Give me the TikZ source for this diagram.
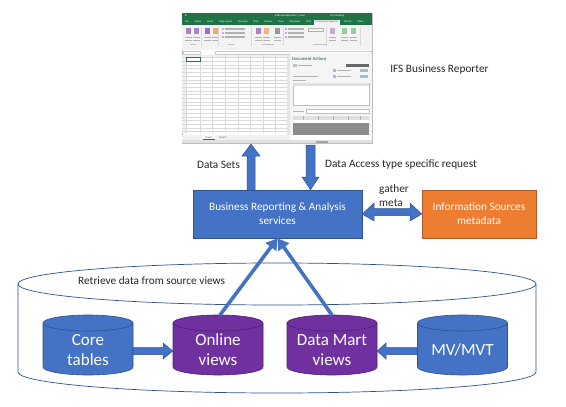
\documentclass[tikz,border=0pt]{standalone}
\usepackage{fontspec}
\setmainfont{Carlito}
\usetikzlibrary{arrows.meta}
\definecolor{ablue}{HTML}{4472C4}
\definecolor{abluedk}{HTML}{2F528F}
\definecolor{apurple}{HTML}{7030A0}
\definecolor{apurpledk}{HTML}{4E2272}
\definecolor{aorange}{HTML}{ED7D31}
\definecolor{aorangedk}{HTML}{AE5A21}
\definecolor{xlgreen}{HTML}{217346}
\definecolor{xlribbon}{HTML}{F3F3F3}
\newcommand{\dbcyl}[3]{% center x, fill, border
  \filldraw[fill=#2,draw=#3,line width=0.6pt] (#1-45,323) -- (#1-45,367)
    arc[start angle=180,end angle=360,x radius=45pt,y radius=8pt] -- (#1+45,323);
  \filldraw[fill=#2,draw=#3,line width=0.6pt] (#1,323) ellipse [x radius=45pt,y radius=8pt];
}
\tikzset{
  lbl/.style={font=\fontsize{11.3}{14}\selectfont, inner sep=0pt, text=black!85},
  boxtxt/.style={font=\fontsize{11.3}{14}\selectfont, text=white, align=center, inner sep=0pt},
  cyltxt/.style={font=\fontsize{17}{20}\selectfont, text=white, align=center, inner sep=0pt, minimum width=90pt, minimum height=50pt},
  barrow/.style={fill=ablue, draw=abluedk, line width=0.5pt, line join=miter},
  larrow/.style={draw=ablue, line width=3.6pt, -{Triangle[length=11pt,width=13pt]}, shorten >=0pt},
  tiny/.style={inner sep=0pt, font=\fontsize{2.6}{3}\selectfont},
}
\begin{document}
\begin{tikzpicture}[x=1pt,y=-1pt]
\useasboundingbox (0,0) rectangle (566,407);
\fill[white] (0,0) rectangle (566,407);

% ---------- Excel screenshot ----------
\node[draw=black!25, line width=0.4pt, fill=white, minimum width=190pt, minimum height=130pt, inner sep=0pt] (excel) at (277,78) {};
\fill[xlgreen] (182,13) rectangle (372,24.5);
\node[tiny, text=white] at (290,15.8) {IFSBusinessReporter1 - Excel};
\node[tiny, text=white, anchor=west] at (185,15.8) {\textbf{X}};
\node[tiny, text=white, anchor=west] at (330,15.8) {Lars Lindberg};
\node[tiny, text=white, anchor=west] at (185,21.6) {File\hspace{6pt}Home\hspace{6pt}Insert\hspace{6pt}Page Layout\hspace{6pt}Formulas\hspace{6pt}Data\hspace{6pt}Review\hspace{6pt}View\hspace{6pt}Developer\hspace{6pt}TEST};
\fill[xlribbon] (314,19.8) rectangle (340,24.5);
\node[tiny, text=xlgreen] at (327,22) {IFS Business Reporter};
\node[tiny, text=white, anchor=west] at (344,21.6) {Tell me\hspace{6pt}Share};
\fill[xlribbon] (182,24.5) rectangle (372,50);
% ribbon icons
\foreach \x/\c in {186/apurple!60,194/apurple!60,205/apurple!70,213/aorange!70,256/apurple!60,264/aorange!60,275/black!40,330/apurple!40,342/green!50!black!40,351/green!50!black!40}{
  \fill[\c] (\x,28) rectangle ++(5,6);
  \fill[black!30] (\x-1,37) rectangle ++(7,1.2);
  \fill[black!30] (\x-1,39.5) rectangle ++(7,1.2);
}
\foreach \y in {28,32,36}{
  \fill[apurple!40] (222,\y) rectangle ++(2,2);
  \fill[black!30] (225,\y+0.4) rectangle ++(20,1.2);
  \fill[apurple!40] (285,\y) rectangle ++(2,2);
  \fill[black!30] (288,\y+0.4) rectangle ++(16,1.2);
}
\draw[black!30,line width=0.4pt] (308,28.5) rectangle (323,31.5);
\foreach \x in {201,218,251,283,326,360}{\draw[black!15,line width=0.3pt] (\x,27) -- (\x,46);}
\foreach \x/\w in {190/6,228/6,262/12,313/14}{\fill[black!25] (\x,44) rectangle ++(\w,1);}
% formula bar
\draw[black!20,line width=0.3pt,fill=white] (183,51) rectangle (200,54.3);
\draw[black!20,line width=0.3pt,fill=white] (215,51) rectangle (371,54.3);
% column headers + grid
\fill[black!6] (182,55) rectangle (287,57.5);
\fill[black!6] (182,55) rectangle (186,133);
\foreach \x in {186,200,212,225,238,250,263,275}{\draw[black!15,line width=0.25pt] (\x,55) -- (\x,133);}
\foreach \i in {0,...,20}{\draw[black!15,line width=0.25pt] (182,57.5+3.7*\i) -- (287,57.5+3.7*\i);}
\draw[xlgreen,line width=0.6pt] (186,57.5) rectangle (200,61.2);
\fill[black!10] (287,55) rectangle (290,135);
% task pane
\fill[black!4] (290,53) rectangle (372,135);
\node[inner sep=0pt, anchor=west, text=xlgreen!70!black, font=\fontsize{4.6}{5}\selectfont] at (292,59) {Document Actions};
\fill[black!25] (293,64) rectangle (297,67); \fill[black!30] (298,65) rectangle (312,66);
\fill[black!60] (346,64) rectangle (369,67);
\foreach \y in {69,75}{\fill[ablue!50] (333,\y) rectangle ++(3,3); \fill[black!30] (337,\y+1) rectangle ++(14,1); \fill[ablue!50] (360,\y) rectangle ++(8,3);}
\fill[black!30] (293,75.6) rectangle (318,76.6);
\fill[black!30] (293,80) rectangle (306,81);
\draw[black!25,line width=0.3pt,fill=white] (293,83) rectangle (369,105);
\fill[black!12] (293,83) rectangle (369,86);
\fill[black!30] (293,111) rectangle (304,112); \draw[black!25,line width=0.3pt,fill=white] (306,109.5) rectangle (369,113);
\fill[black!12] (293,116) rectangle (369,119.5);
\foreach \x in {303,318,333,348,360}{\draw[black!30,line width=0.25pt] (\x,116) -- (\x,119.5);}
\fill[white] (293,120) rectangle (369,123);
\fill[black!45] (293,123) rectangle (369,135);
% sheet tabs and status bar
\fill[black!6] (182,135) rectangle (290,140);
\fill[white] (203,135) rectangle (215,139.5);
\draw[xlgreen,line width=0.5pt] (203,139.3) -- (215,139.3);
\node[tiny, text=xlgreen] at (209,137.2) {Sheet1};
\node[tiny, text=black!60] at (223,137.2) {Sheet2};
\fill[black!12] (182,140) rectangle (372,143);
\fill[black!35] (316,140.5) rectangle (328,142.5);

% ---------- labels ----------
\node[lbl] (ifsl) at (439.5,70) {IFS Business Reporter};
\node[lbl] (dsl) at (218.5,165) {Data Sets};
\node[lbl, anchor=west] (dal) at (325,165) {Data Access type specific request};
\node[lbl, anchor=west, align=left] (gml) at (379,196) {gather\\meta};

% ---------- boxes ----------
\node[draw=abluedk, fill=ablue, line width=0.6pt, minimum width=169pt, minimum height=48pt, inner sep=0pt] (br) at (277.5,214) {};
\node[boxtxt] at (br.center) {Business Reporting \& Analysis\\services};
\node[draw=aorangedk, fill=aorange, line width=0.6pt, minimum width=114pt, minimum height=48pt, inner sep=0pt] (info) at (479,214) {};
\node[boxtxt] at (info.center) {Information Sources\\metadata};

% block arrows
\draw[barrow] (br.north -| 247,0) -- (247,156) -- (242,156) -- (251,144) -- (260,156) -- (255,156) -- (br.north -| 255,0) -- cycle;
\draw[barrow] (306,145) -- (306,177) -- (302,177) -- (br.north -| 310.5,0) -- (319,177) -- (315,177) -- (315,145) -- cycle;
\draw[barrow] (br.east) -- (374,203) -- (374,208.5) -- (410,208.5) -- (410,203) -- (info.west) -- (410,221) -- (410,215.5) -- (374,215.5) -- (374,221) -- cycle;

% ---------- big cylinder ----------
\draw[abluedk, line width=0.7pt] (18,284) -- (18,372) arc[start angle=180,end angle=360,x radius=259pt,y radius=21pt] -- (536,284);
\draw[abluedk, line width=0.7pt] (277,284) ellipse [x radius=259pt,y radius=21pt];
\node[lbl, anchor=west] (rtl) at (78,280.5) {Retrieve data from source views};

% ---------- small cylinders ----------
\dbcyl{88}{ablue}{abluedk}
\dbcyl{218}{apurple}{apurpledk}
\dbcyl{332}{apurple}{apurpledk}
\dbcyl{462.5}{ablue}{abluedk}
\node[cyltxt] (core) at (88,350) {Core\\tables};
\node[cyltxt] (online) at (218,350) {Online\\views};
\node[cyltxt] (dmart) at (332,350) {Data Mart\\views};
\node[cyltxt] (mv) at (462.5,350) {MV/MVT};
\coordinate (onlinetop) at (220,315);
\coordinate (dmarttop) at (332,315);

% arrows between cylinders
\draw[barrow] (core.east |- 0,347.5) -- (163,347.5) -- (163,343) -- (online.west |- 0,351) -- (163,359) -- (163,354.5) -- (core.east |- 0,354.5) -- cycle;
\draw[barrow] (mv.west |- 0,347.5) -- (386,347.5) -- (386,343) -- (dmart.east |- 0,351) -- (386,359) -- (386,354.5) -- (mv.west |- 0,354.5) -- cycle;

% line arrows to services
\draw[larrow] (onlinetop) -- (br.south);
\draw[larrow] (dmarttop) -- (br.south);
\end{tikzpicture}
\end{document}
